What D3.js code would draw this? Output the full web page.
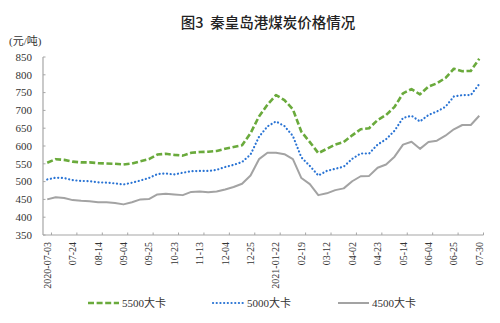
<!DOCTYPE html>
<html>
<head>
<meta charset="utf-8">
<script src="https://cdn.jsdelivr.net/npm/d3@7/dist/d3.min.js"></script>
<style>
  html, body { margin: 0; padding: 0; background: #fff; }
  svg { display: block; }
</style>
</head>
<body>
<div id="chart"></div>
<script>
// Weekly Qinhuangdao port coal prices (yuan/ton), 2020-07 to 2021-07
const categories = [
  "2020-07-03", "07-10", "07-17", "07-24", "07-31", "08-07", "08-14", "08-21", "08-28",
  "09-04", "09-11", "09-18", "09-25", "10-09", "10-16", "10-23", "10-30", "11-06",
  "11-13", "11-20", "11-27", "12-04", "12-11", "12-18", "12-25", "01-08", "01-15",
  "2021-01-22", "01-29", "02-05", "02-19", "02-26", "03-05", "03-12", "03-19", "03-26",
  "04-02", "04-09", "04-16", "04-23", "04-30", "05-07", "05-14", "05-21", "05-28",
  "06-04", "06-11", "06-18", "06-25", "07-09", "07-23", "07-30"
];

const price5500 = [
  553, 563, 561, 556, 554, 554, 552, 551, 550, 548, 551, 557, 563, 576, 578, 575, 573, 581,
  583, 584, 586, 592, 597, 602, 636, 683, 716, 743, 729, 703, 640, 611, 580, 592, 604, 611,
  630, 647, 650, 673, 687, 710, 748, 760, 745, 767, 776, 791, 817, 810, 811, 845
];

const price5000 = [
  506, 511, 510, 504, 502, 501, 498, 497, 495, 492, 497, 503, 510, 521, 523, 520, 525, 529,
  530, 530, 533, 541, 547, 555, 576, 626, 655, 669, 656, 628, 568, 544, 517, 530, 536, 542,
  564, 579, 579, 604, 619, 643, 679, 685, 669, 687, 697, 710, 739, 743, 743, 774
];

const price4500 = [
  450, 456, 454, 448, 446, 445, 442, 442, 440, 436, 442, 450, 451, 464, 466, 464, 462, 471,
  472, 470, 472, 478, 485, 494, 517, 563, 581, 581, 577, 563, 510, 493, 462, 467, 476, 481,
  501, 515, 516, 539, 548, 570, 604, 612, 592, 611, 615, 629, 647, 659, 659, 685
];

const yTicks = [350, 400, 450, 500, 550, 600, 650, 700, 750, 800, 850];
const seriesNames = ["5500大卡", "5000大卡", "4500大卡"];
const titleText = "图3  秦皇岛港煤炭价格情况";
const unitText = "(元/吨)";

const W = 500, H = 323;
const plot = { left: 43, right: 483.5, top: 57, bottom: 235 };

const series = [
  { name: seriesNames[0], values: price5500, color: "#6aaa3c", width: 2.6, dash: "6,2.6", cap: "butt" },
  { name: seriesNames[1], values: price5000, color: "#2a74d4", width: 2.2, dash: "0.1,3.6", cap: "round" },
  { name: seriesNames[2], values: price4500, color: "#a3a3a3", width: 2, dash: null, cap: "butt" }
];

const svg = d3.select("#chart").append("svg")
  .attr("width", W).attr("height", H)
  .attr("viewBox", `0 0 ${W} ${H}`);

svg.append("rect").attr("width", W).attr("height", H).attr("fill", "#fff");

const x = d3.scaleBand().domain(categories).range([plot.left, plot.right]).padding(0);
const y = d3.scaleLinear().domain([350, 850]).range([plot.bottom, plot.top]);
const cx = c => x(c) + x.bandwidth() / 2;

// Title and unit
svg.append("text")
  .attr("x", 268).attr("y", 28)
  .attr("text-anchor", "middle")
  .attr("font-family", "'Noto Sans CJK SC', sans-serif")
  .attr("font-size", 14.5).attr("font-weight", 500)
  .attr("fill", "#222")
  .style("white-space", "pre")
  .text(titleText);

svg.append("text")
  .attr("x", 9).attr("y", 45)
  .attr("font-family", "'Liberation Serif', 'Noto Sans CJK SC', serif")
  .attr("font-size", 11)
  .attr("fill", "#333")
  .text(unitText);

// Y axis
const yAxis = svg.append("g");
yAxis.append("line")
  .attr("x1", plot.left).attr("x2", plot.left)
  .attr("y1", plot.top).attr("y2", plot.bottom)
  .attr("stroke", "#a6a6a6").attr("stroke-width", 1.2);
yAxis.selectAll(".ytick").data(yTicks).join("line")
  .attr("x1", plot.left).attr("x2", plot.left + 2.5)
  .attr("y1", d => y(d)).attr("y2", d => y(d))
  .attr("stroke", "#a6a6a6").attr("stroke-width", 1);
yAxis.selectAll(".ylabel").data(yTicks).join("text")
  .attr("x", 32).attr("y", d => y(d))
  .attr("dy", "0.35em")
  .attr("text-anchor", "end")
  .attr("font-family", "'Liberation Serif', serif")
  .attr("font-size", 11)
  .attr("fill", "#333")
  .text(d => d);

// X axis
const xAxis = svg.append("g");
xAxis.append("line")
  .attr("x1", plot.left).attr("x2", plot.right)
  .attr("y1", plot.bottom).attr("y2", plot.bottom)
  .attr("stroke", "#a6a6a6").attr("stroke-width", 1.2);

const tickBounds = d3.range(1, categories.length + 1).filter(b => b % 3 === 1);
xAxis.selectAll(".xtick").data(tickBounds).join("line")
  .attr("x1", b => plot.left + b * x.step()).attr("x2", b => plot.left + b * x.step())
  .attr("y1", plot.bottom).attr("y2", plot.bottom - 2.5)
  .attr("stroke", "#a6a6a6").attr("stroke-width", 1);

const labelled = categories.filter((c, i) => i % 3 === 0);
xAxis.selectAll(".xlabel").data(labelled).join("text")
  .attr("transform", c => `translate(${cx(c)},${plot.bottom + 7}) rotate(-90)`)
  .attr("text-anchor", "end")
  .attr("dominant-baseline", "central")
  .attr("font-family", "'Liberation Serif', serif")
  .attr("font-size", 10)
  .attr("fill", "#333")
  .text(c => c);

// Lines
const line = d3.line()
  .x((d, i) => cx(categories[i]))
  .y(d => y(d));

svg.append("g").selectAll("path").data(series.slice().reverse()).join("path")
  .attr("d", s => line(s.values))
  .attr("fill", "none")
  .attr("stroke", s => s.color)
  .attr("stroke-width", s => s.width)
  .attr("stroke-dasharray", s => s.dash)
  .attr("stroke-linecap", s => s.cap)
  .attr("stroke-linejoin", "round");

// Legend
const legendX = [88, 213, 338];
const legend = svg.append("g").selectAll("g").data(series).join("g")
  .attr("transform", (s, i) => `translate(${legendX[i]},303)`);
legend.append("line")
  .attr("x1", 0).attr("x2", 31).attr("y1", 0).attr("y2", 0)
  .attr("stroke", s => s.color)
  .attr("stroke-width", s => s.width)
  .attr("stroke-dasharray", s => s.dash)
  .attr("stroke-linecap", s => s.cap);
legend.append("text")
  .attr("x", 34).attr("y", 0).attr("dy", "0.36em")
  .attr("font-family", "'Liberation Serif', 'Noto Sans CJK SC', serif")
  .attr("font-size", 11)
  .attr("fill", "#333")
  .text(s => s.name);
</script>
</body>
</html>
